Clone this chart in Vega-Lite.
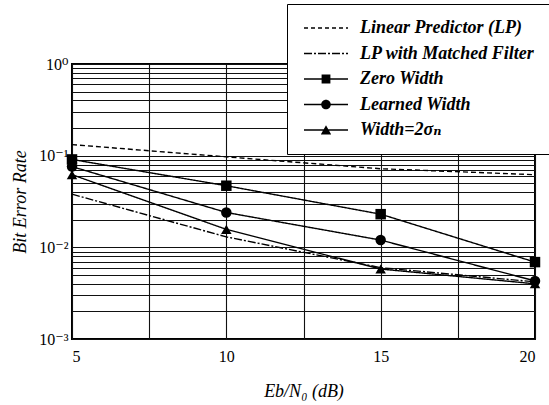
{
  "$schema": "https://vega.github.io/schema/vega-lite/v6.json",
  "width": 463,
  "height": 275,
  "autosize": {"type": "none"},
  "padding": {"left": 72, "top": 64, "right": 14, "bottom": 66},
  "background": "white",
  "config": {
    "font": "Liberation Serif, Times New Roman, DejaVu Serif, serif",
    "view": {"stroke": "black", "strokeWidth": 2},
    "axis": {
      "grid": true,
      "gridColor": "#111111",
      "gridWidth": 1.1,
      "gridOpacity": 1,
      "ticks": false,
      "domain": false,
      "labelFont": "Liberation Serif, Times New Roman, DejaVu Serif, serif",
      "labelFontSize": 16,
      "labelColor": "black",
      "labelOverlap": false,
      "titleFont": "Liberation Serif, Times New Roman, DejaVu Serif, serif",
      "titleFontSize": 18,
      "titleFontStyle": "italic",
      "titleFontWeight": "normal",
      "titleColor": "black"
    }
  },
  "data": {
    "values": [
      {"series": "Linear Predictor (LP)", "x": 5, "y": 0.132},
      {"series": "Linear Predictor (LP)", "x": 10, "y": 0.097},
      {"series": "Linear Predictor (LP)", "x": 15, "y": 0.072},
      {"series": "Linear Predictor (LP)", "x": 20, "y": 0.062},
      {"series": "LP with Matched Filter", "x": 5, "y": 0.038},
      {"series": "LP with Matched Filter", "x": 10, "y": 0.013},
      {"series": "LP with Matched Filter", "x": 15, "y": 0.006},
      {"series": "LP with Matched Filter", "x": 20, "y": 0.0042},
      {"series": "Zero Width", "x": 5, "y": 0.091},
      {"series": "Zero Width", "x": 10, "y": 0.047},
      {"series": "Zero Width", "x": 15, "y": 0.023},
      {"series": "Zero Width", "x": 20, "y": 0.0069},
      {"series": "Learned Width", "x": 5, "y": 0.076},
      {"series": "Learned Width", "x": 10, "y": 0.024},
      {"series": "Learned Width", "x": 15, "y": 0.012},
      {"series": "Learned Width", "x": 20, "y": 0.0043},
      {"series": "Width=2σₙ", "x": 5, "y": 0.062},
      {"series": "Width=2σₙ", "x": 10, "y": 0.0157},
      {"series": "Width=2σₙ", "x": 15, "y": 0.0058},
      {"series": "Width=2σₙ", "x": 20, "y": 0.004}
    ]
  },
  "encoding": {
    "x": {
      "field": "x",
      "type": "quantitative",
      "scale": {"domain": [5, 20], "nice": false, "zero": false},
      "axis": {
        "values": [5, 7.5, 10, 12.5, 15, 17.5, 20],
        "labelExpr": "datum.value % 5 == 0 ? format(datum.value, 'd') : ''",
        "labelPadding": 9,
        "title": "Eb/N₀ (dB)",
        "titlePadding": 18
      }
    },
    "y": {
      "field": "y",
      "type": "quantitative",
      "scale": {"type": "log", "domain": [0.001, 1], "nice": false},
      "axis": {
        "values": [0.001, 0.002, 0.003, 0.004, 0.005, 0.006, 0.007, 0.008, 0.009, 0.01, 0.02, 0.03, 0.04, 0.05, 0.06, 0.07, 0.08, 0.09, 0.1, 0.2, 0.3, 0.4, 0.5, 0.6, 0.7, 0.8, 0.9, 1],
        "labelExpr": "datum.value == 1 ? '10⁰' : datum.value == 0.1 ? '10⁻¹' : datum.value == 0.01 ? '10⁻²' : datum.value == 0.001 ? '10⁻³' : ''",
        "labelPadding": 4,
        "title": "Bit Error Rate",
        "titlePadding": 9
      }
    }
  },
  "layer": [
    {
      "mark": {"type": "line", "color": "black", "strokeWidth": 1.4},
      "encoding": {
        "detail": {"field": "series"},
        "strokeDash": {
          "field": "series",
          "scale": {
            "domain": ["Linear Predictor (LP)", "LP with Matched Filter", "Zero Width", "Learned Width", "Width=2σₙ"],
            "range": [[5, 3], [8, 2, 2, 2], [1, 0], [1, 0], [1, 0]]
          },
          "legend": null
        }
      }
    },
    {
      "transform": [{"filter": "datum.series != 'Linear Predictor (LP)' && datum.series != 'LP with Matched Filter'"}],
      "mark": {"type": "point", "filled": true, "color": "black", "opacity": 1, "size": 110},
      "encoding": {
        "shape": {
          "field": "series",
          "scale": {"domain": ["Zero Width", "Learned Width", "Width=2σₙ"], "range": ["square", "circle", "triangle-up"]},
          "legend": null
        }
      }
    },
    {
      "mark": {"type": "point", "filled": true, "color": "black", "opacity": 0},
      "encoding": {
        "shape": {
          "field": "series",
          "scale": {
            "domain": ["Linear Predictor (LP)", "LP with Matched Filter", "Zero Width", "Learned Width", "Width=2σₙ"],
            "range": [
              "M-5.5,-0.18H-4.5V0.18H-5.5ZM-3.75,-0.18H-2.75V0.18H-3.75ZM-2,-0.18H-1V0.18H-2ZM-0.25,-0.18H0.75V0.18H-0.25ZM1.5,-0.18H2.5V0.18H1.5ZM3.25,-0.18H4.25V0.18H3.25ZM5,-0.18H5.5V0.18H5Z",
              "M-5.5,-0.18H-3.5V0.18H-5.5ZM-3,-0.18H-2.5V0.18H-3ZM-2,-0.18H0V0.18H-2ZM0.5,-0.18H1V0.18H0.5ZM1.5,-0.18H3.5V0.18H1.5ZM4,-0.18H4.5V0.18H4ZM5,-0.18H5.5V0.18H5Z",
              "M-5.5,-0.18H5.5V0.18H-5.5ZM-1.1,-1.1H1.1V1.1H-1.1Z",
              "M-5.5,-0.18H5.5V0.18H-5.5ZM-1.2,0A1.2,1.2,0,1,1,1.2,0A1.2,1.2,0,1,1,-1.2,0Z",
              "M-5.5,-0.18H5.5V0.18H-5.5ZM-1.3,1.1L0,-1.2L1.3,1.1Z"
            ]
          },
          "legend": {
            "title": null,
            "orient": "none",
            "legendX": 215,
            "legendY": -60,
            "direction": "vertical",
            "fillColor": "white",
            "strokeColor": "black",
            "padding": 15,
            "rowPadding": 7.5,
            "symbolSize": 64,
            "symbolOffset": 15,
            "symbolOpacity": 1,
            "symbolFillColor": "black",
            "symbolStrokeColor": "black",
            "symbolStrokeWidth": 0,
            "labelOffset": 25,
            "labelFont": "Liberation Serif, Times New Roman, DejaVu Serif, serif",
            "labelFontSize": 18,
            "labelFontStyle": "italic",
            "labelFontWeight": "bold",
            "labelColor": "black",
            "labelLimit": 300,
            "encode": {
              "symbols": {
                "update": {
                  "opacity": {"value": 1},
                  "fill": {"value": "black"}
                }
              }
            }
          }
        }
      }
    }
  ],
  "resolve": {"scale": {"shape": "independent"}, "legend": {"shape": "independent"}}
}
